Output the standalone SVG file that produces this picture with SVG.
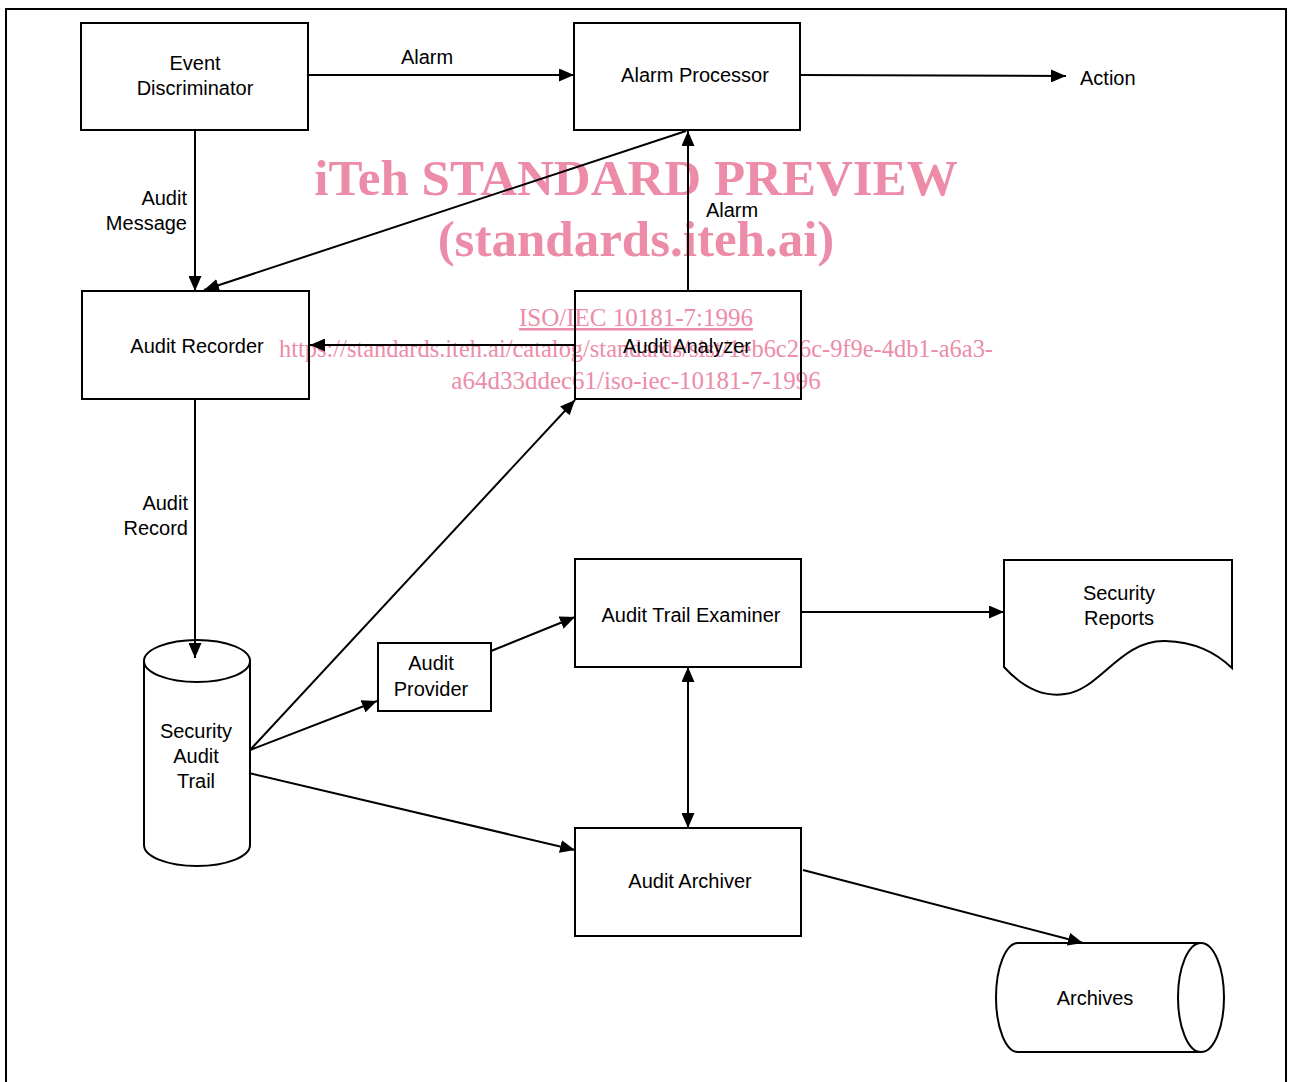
<svg xmlns="http://www.w3.org/2000/svg" width="1290" height="1082" viewBox="0 0 1290 1082">
<style>
.box{fill:none;stroke:#000;stroke-width:2}
.ln{fill:none;stroke:#000;stroke-width:2}
.t{font-family:"Liberation Sans",Arial,sans-serif;font-size:20px;fill:#000;text-anchor:middle}
.r{text-anchor:end}
.s{text-anchor:start}
.wm{font-family:"Liberation Serif","Times New Roman",serif;fill:#ec8ca8;text-anchor:middle}
.wb{font-size:51px;font-weight:bold}
.wu{font-size:25px}
</style>
<defs>
<marker id="ah" markerUnits="userSpaceOnUse" markerWidth="16" markerHeight="13" refX="15" refY="6.5" orient="auto-start-reverse">
<path d="M0,0 L15,6.5 L0,13 Z" fill="#000"/>
</marker>
</defs>
<rect width="1290" height="1082" fill="#fff"/>

<g id="watermark">
<text x="636" y="195" class="wm wb">iTeh STANDARD PREVIEW</text>
<text x="636" y="256" class="wm wb">(standards.iteh.ai)</text>
<text x="636" y="326" class="wm wu" text-decoration="underline">ISO/IEC 10181-7:1996</text>
<text x="636" y="357" class="wm wu" textLength="714" lengthAdjust="spacingAndGlyphs">https://standards.iteh.ai/catalog/standards/sist/1eb6c26c-9f9e-4db1-a6a3-</text>
<text x="636" y="389" class="wm wu">a64d33ddec61/iso-iec-10181-7-1996</text>
</g>

<path d="M6,1082 V9 H1286 V1082" class="ln"/>

<g id="event-discriminator">
<rect x="81" y="23" width="227" height="107" class="box"/>
<text x="195" y="70" class="t">Event</text>
<text x="195" y="95" class="t">Discriminator</text>
</g>
<g id="alarm-processor">
<rect x="574" y="23" width="226" height="107" class="box"/>
<text x="695" y="82" class="t">Alarm Processor</text>
</g>
<g id="audit-recorder">
<rect x="82" y="291" width="227" height="108" class="box"/>
<text x="197" y="353" class="t">Audit Recorder</text>
</g>
<g id="audit-analyzer">
<rect x="575" y="291" width="226" height="108" class="box"/>
<text x="687" y="353" class="t">Audit Analyzer</text>
</g>
<g id="audit-trail-examiner">
<rect x="575" y="559" width="226" height="108" class="box"/>
<text x="691" y="622" class="t">Audit Trail Examiner</text>
</g>
<g id="audit-archiver">
<rect x="575" y="828" width="226" height="108" class="box"/>
<text x="690" y="888" class="t">Audit Archiver</text>
</g>
<g id="audit-provider">
<rect x="378" y="643" width="113" height="68" class="box"/>
<text x="431" y="670" class="t">Audit</text>
<text x="431" y="696" class="t">Provider</text>
</g>
<g id="security-audit-trail">
<path d="M144,661 V845 A53,21 0 0 0 250,845 V661" class="box"/>
<ellipse cx="197" cy="661" rx="53" ry="21" class="box"/>
<text x="196" y="738" class="t">Security</text>
<text x="196" y="763" class="t">Audit</text>
<text x="196" y="788" class="t">Trail</text>
</g>
<g id="security-reports">
<path d="M1004,560 H1232 V668 C1215,652 1195,642 1165,641 C1120,640 1100,690 1065,694 C1045,697 1025,690 1004,667 Z" class="box"/>
<text x="1119" y="600" class="t">Security</text>
<text x="1119" y="625" class="t">Reports</text>
</g>
<g id="archives">
<path d="M1201,943 H1018 A22,54.5 0 0 0 1018,1052 H1201" class="box"/>
<ellipse cx="1201" cy="997.5" rx="23" ry="54.5" class="box"/>
<text x="1095" y="1005" class="t">Archives</text>
</g>

<g id="connectors">
<line x1="309" y1="75" x2="574" y2="75" class="ln" marker-end="url(#ah)"/>
<line x1="801" y1="75" x2="1066" y2="76" class="ln" marker-end="url(#ah)"/>
<line x1="195" y1="131" x2="195" y2="291" class="ln" marker-end="url(#ah)"/>
<line x1="686" y1="131" x2="204" y2="290" class="ln" marker-end="url(#ah)"/>
<line x1="688" y1="291" x2="688" y2="131" class="ln" marker-end="url(#ah)"/>
<line x1="575" y1="345" x2="310" y2="345" class="ln" marker-end="url(#ah)"/>
<line x1="195" y1="399" x2="195" y2="658" class="ln" marker-end="url(#ah)"/>
<line x1="250" y1="750" x2="575" y2="400" class="ln" marker-end="url(#ah)"/>
<line x1="250" y1="750" x2="377" y2="701" class="ln" marker-end="url(#ah)"/>
<line x1="491" y1="651" x2="575" y2="617" class="ln" marker-end="url(#ah)"/>
<line x1="801" y1="612" x2="1004" y2="612" class="ln" marker-end="url(#ah)"/>
<line x1="688" y1="667" x2="688" y2="828" class="ln" marker-start="url(#ah)" marker-end="url(#ah)"/>
<line x1="249" y1="773" x2="575" y2="850" class="ln" marker-end="url(#ah)"/>
<line x1="803" y1="870" x2="1083" y2="943" class="ln" marker-end="url(#ah)"/>
<text x="427" y="64" class="t">Alarm</text>
<text x="1080" y="85" class="t s">Action</text>
<text x="187" y="205" class="t r">Audit</text>
<text x="187" y="230" class="t r">Message</text>
<text x="732" y="217" class="t">Alarm</text>
<text x="188" y="510" class="t r">Audit</text>
<text x="188" y="535" class="t r">Record</text>
</g>
</svg>
